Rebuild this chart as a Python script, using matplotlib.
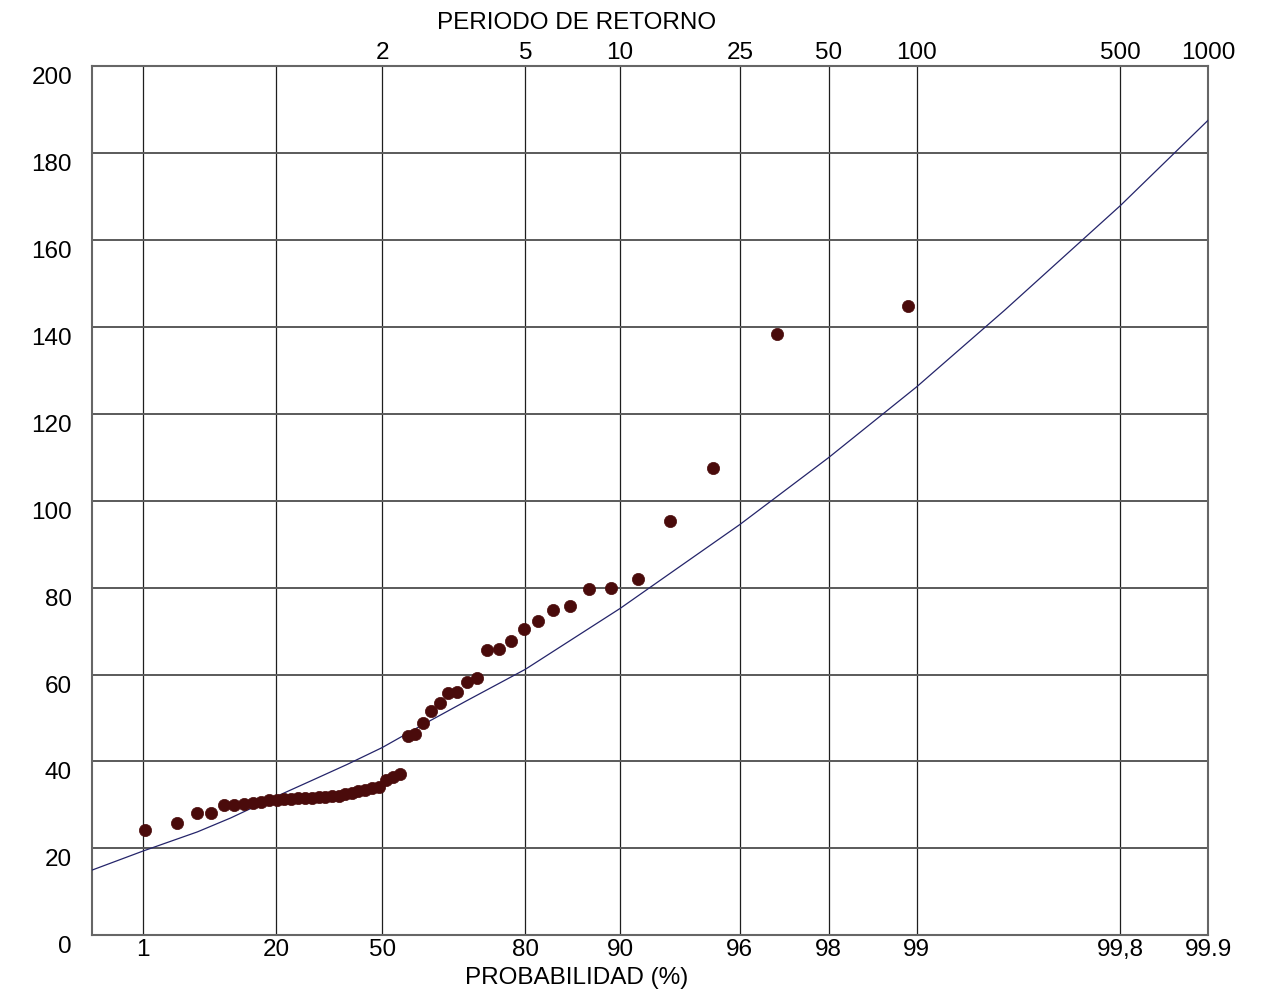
import numpy as np
import matplotlib
matplotlib.use("Agg")
import matplotlib.pyplot as plt
from matplotlib.transforms import blended_transform_factory, offset_copy

plt.rcParams["font.family"] = ["Liberation Sans", "DejaVu Sans"]
plt.rcParams["font.size"] = 17.5

# Observed annual maxima (ascending) and their non-exceedance probability (%)
obs_prob = [1.07, 2.99, 4.91, 6.83, 8.75, 10.67, 12.59, 14.51, 16.42, 18.34,
            20.26, 22.18, 24.10, 26.02, 27.94, 29.85, 31.77, 33.69, 35.61, 37.53,
            39.45, 41.37, 43.28, 45.20, 47.12, 49.04, 50.96, 52.88, 54.80, 56.72,
            58.63, 60.55, 62.47, 64.39, 66.31, 68.23, 70.15, 72.06, 73.98, 75.90,
            77.82, 79.74, 81.66, 83.58, 85.49, 87.41, 89.33, 91.25, 93.17, 95.09,
            97.01, 98.93]
obs_value = [24.2, 25.9, 28.1, 28.2, 30.0, 30.0, 30.1, 30.4, 30.7, 31.1,
             31.2, 31.3, 31.4, 31.5, 31.6, 31.7, 31.8, 31.9, 32.0, 32.1,
             32.4, 32.8, 33.1, 33.4, 33.8, 34.2, 35.8, 36.5, 37.2, 45.8,
             46.3, 48.9, 51.6, 53.5, 55.7, 55.9, 58.2, 59.1, 65.6, 65.9,
             67.8, 70.4, 72.3, 74.8, 75.7, 79.6, 80.0, 82.0, 95.3, 107.4,
             138.4, 144.8]

# Fitted distribution curve, values at selected probabilities (%)
fit_prob = [0.1, 1, 5, 10, 20, 30, 40, 50, 60, 70, 80, 90, 93, 96, 98, 99,
            99.5, 99.8, 99.9]
fit_value = [15.0, 19.4, 23.8, 27.0, 31.9, 35.7, 39.3, 43.2, 48.2, 53.9, 61.2,
             75.2, 82.8, 94.5, 109.9, 126.2, 143.8, 167.9, 187.5]

# Axis ticks
prob_ticks = [1, 20, 50, 80, 90, 96, 98, 99, 99.8, 99.9]
prob_labels = ["1", "20", "50", "80", "90", "96", "98", "99", "99,8", "99.9"]
period_ticks = [2, 5, 10, 25, 50, 100, 500, 1000]
period_labels = ["2", "5", "10", "25", "50", "100", "500", "1000"]
value_ticks = [0, 20, 40, 60, 80, 100, 120, 140, 160, 180, 200]


def gumbel(pct):
    """Gumbel reduced variate for a non-exceedance probability in percent."""
    p = np.asarray(pct, dtype=float) / 100.0
    return -np.log(-np.log(p))


fig = plt.figure(figsize=(12.68, 9.94), dpi=100)
fig.patch.set_facecolor("white")
ax = fig.add_axes([0.07256, 0.05905, 0.88013, 0.87455])

ax.set_xlim(gumbel(0.1), gumbel(99.9))
ax.set_ylim(0, 200)
ax.set_xticks([])
ax.set_yticks([])

for side in ax.spines.values():
    side.set_color("#666666")
    side.set_linewidth(1.5)

# Probability-paper grid
for p in prob_ticks[:-1]:
    ax.axvline(gumbel(p), color="#1e1e1e", lw=0.9, zorder=1)
for v in value_ticks[1:-1]:
    ax.axhline(v, color="#5a5a5a", lw=1.4, zorder=1)

# Fitted curve and observations
ax.plot(gumbel(fit_prob), fit_value, color="#24246a", lw=0.9, zorder=3)
ax.plot(gumbel(obs_prob), obs_value, "o", color="#4a0b0b", ms=8.8,
        mec="#4a0b0b", mew=0.5, zorder=4)

# Value labels on the left, set slightly below their grid lines
ytrans = offset_copy(blended_transform_factory(ax.transAxes, ax.transData),
                     fig=fig, x=-20, y=-12, units="dots")
for v in value_ticks:
    ax.text(0, v, str(v), transform=ytrans, ha="right", va="center",
            clip_on=False)

# Probability labels along the bottom
btrans = offset_copy(blended_transform_factory(ax.transData, ax.transAxes),
                     fig=fig, x=0, y=-15, units="dots")
for p, lab in zip(prob_ticks, prob_labels):
    ax.text(gumbel(p), 0, lab, transform=btrans, ha="center", va="center",
            clip_on=False)

# Return-period labels along the top
ttrans = offset_copy(blended_transform_factory(ax.transData, ax.transAxes),
                     fig=fig, x=0, y=13, units="dots")
for t, lab in zip(period_ticks, period_labels):
    ax.text(gumbel(100.0 * (1.0 - 1.0 / t)), 1, lab, transform=ttrans,
            ha="center", va="center", clip_on=False)

fig.text(577 / 1268, 1 - 23 / 994, "PERIODO DE RETORNO", ha="center",
         va="center")
fig.text(577 / 1268, 1 - 978 / 994, "PROBABILIDAD (%)", ha="center",
         va="center")

fig.savefig("out.png", dpi=100, facecolor="white")
